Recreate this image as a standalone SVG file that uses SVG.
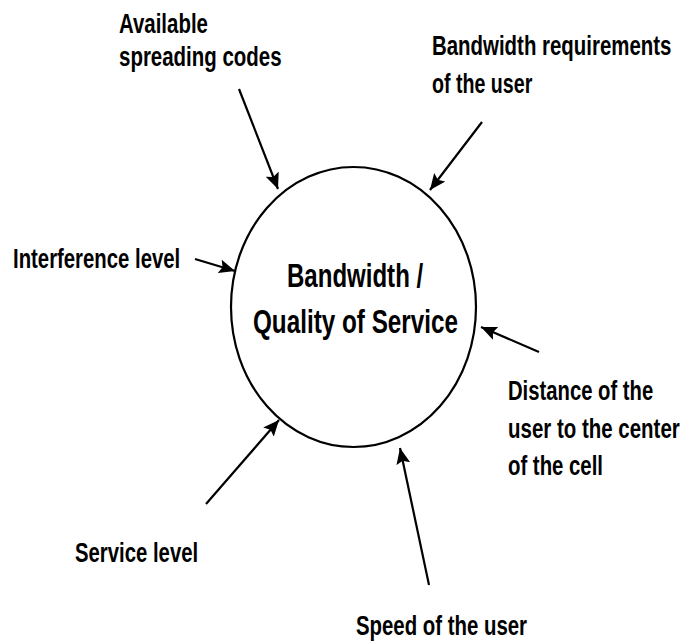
<svg xmlns="http://www.w3.org/2000/svg" width="683" height="642" viewBox="0 0 683 642">
  <style>
    .lbl { font-family: "Liberation Sans", Arial, sans-serif; font-weight: bold; font-size: 27px; fill: #000; }
    .ctr { font-family: "Liberation Sans", Arial, sans-serif; font-weight: bold; font-size: 33px; fill: #000; }
    .conn { stroke: #000; stroke-width: 2.2; fill: none; marker-end: url(#ah); }
  </style>
  <defs>
    <marker id="ah" markerUnits="userSpaceOnUse" markerWidth="18" markerHeight="14" refX="16" refY="7" orient="auto">
      <path d="M0,0 L16,7 L0,14 L3,7 Z" fill="#000"/>
    </marker>
  </defs>
  <rect width="683" height="642" fill="#fff"/>
  <g id="center">
    <ellipse cx="353.5" cy="307" rx="122.5" ry="140" fill="none" stroke="#000" stroke-width="2.2"/>
    <text class="ctr" transform="translate(287,287) scale(0.74,1)" textLength="184" lengthAdjust="spacingAndGlyphs">Bandwidth /</text>
    <text class="ctr" transform="translate(253,333) scale(0.74,1)" textLength="277" lengthAdjust="spacingAndGlyphs">Quality of Service</text>
  </g>
  <g id="codes">
    <text class="lbl" transform="translate(119,33) scale(0.76,1)" textLength="117" lengthAdjust="spacingAndGlyphs">Available</text>
    <text class="lbl" transform="translate(119,66) scale(0.76,1)" textLength="214" lengthAdjust="spacingAndGlyphs">spreading codes</text>
  </g>
  <g id="bwreq">
    <text class="lbl" transform="translate(432,55) scale(0.76,1)" textLength="315" lengthAdjust="spacingAndGlyphs">Bandwidth requirements</text>
    <text class="lbl" transform="translate(432,93) scale(0.76,1)" textLength="132" lengthAdjust="spacingAndGlyphs">of the user</text>
  </g>
  <g id="interference">
    <text class="lbl" transform="translate(13,268) scale(0.76,1)" textLength="220" lengthAdjust="spacingAndGlyphs">Interference level</text>
  </g>
  <g id="distance">
    <text class="lbl" transform="translate(508,400) scale(0.76,1)" textLength="191" lengthAdjust="spacingAndGlyphs">Distance of the</text>
    <text class="lbl" transform="translate(508,438) scale(0.76,1)" textLength="226" lengthAdjust="spacingAndGlyphs">user to the center</text>
    <text class="lbl" transform="translate(508,475) scale(0.76,1)" textLength="125" lengthAdjust="spacingAndGlyphs">of the cell</text>
  </g>
  <g id="service">
    <text class="lbl" transform="translate(75,562) scale(0.76,1)" textLength="162" lengthAdjust="spacingAndGlyphs">Service level</text>
  </g>
  <g id="speed">
    <text class="lbl" transform="translate(356,635) scale(0.76,1)" textLength="225" lengthAdjust="spacingAndGlyphs">Speed of the user</text>
  </g>
  <g id="connectors">
    <line class="conn" x1="239" y1="89" x2="278" y2="189"/>
    <line class="conn" x1="482" y1="122" x2="430" y2="190"/>
    <line class="conn" x1="195" y1="259" x2="235" y2="271"/>
    <line class="conn" x1="539" y1="352" x2="481" y2="327"/>
    <line class="conn" x1="206" y1="504" x2="279" y2="420"/>
    <line class="conn" x1="429" y1="585" x2="400" y2="448"/>
  </g>
</svg>
